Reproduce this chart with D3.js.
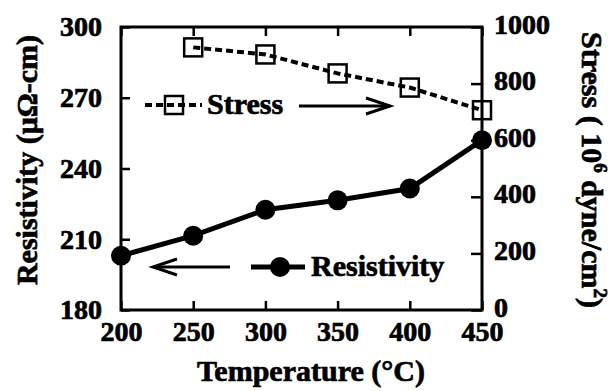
<!DOCTYPE html>
<html>
<head>
<meta charset="utf-8">
<script src="https://cdn.jsdelivr.net/npm/d3@7"></script>
<style>
  body { margin: 0; background: #fff; }
  svg text { font-family: 'Liberation Serif', 'Times New Roman', serif; font-weight: bold; fill: #000; stroke: #000; stroke-width: 0.7px; }
</style>
</head>
<body>
<div id="chart"></div>
<script>
// Data
var temps = [200, 250, 300, 350, 400, 450];
var resistivity = [203, 211.5, 222.5, 226.5, 231.5, 252];
var stressTemps = [250, 300, 350, 400, 450];
var stress = [928, 903, 836, 786, 706];
var xTicks = [200, 250, 300, 350, 400, 450];
var leftTicks = [180, 210, 240, 270, 300];
var rightTicks = [0, 200, 400, 600, 800, 1000];

var attrs = {
  svgWidth: 612,
  svgHeight: 391,
  left: 121,
  right: 482,
  top: 27,
  bottom: 310,
  tickFont: 28,
  titleFont: 30,
  font: "'Liberation Serif', 'Times New Roman', serif"
};

var svg = d3.select('#chart').append('svg')
  .attr('width', attrs.svgWidth)
  .attr('height', attrs.svgHeight);

var x = d3.scaleLinear().domain([200, 450]).range([attrs.left, attrs.right]);
var yL = d3.scaleLinear().domain([180, 300]).range([attrs.bottom, attrs.top]);
var yR = d3.scaleLinear().domain([0, 1000]).range([attrs.bottom, attrs.top]);
var fmt = d3.format('d');

// axes, ticks pointing inward
var gx = svg.append('g')
  .attr('transform', 'translate(0,' + attrs.bottom + ')')
  .call(d3.axisBottom(x).tickValues(xTicks).tickFormat(fmt).tickSizeInner(-9).tickSizeOuter(0).tickPadding(11));
var gxTop = svg.append('g')
  .attr('transform', 'translate(0,' + attrs.top + ')')
  .call(d3.axisTop(x).tickValues(xTicks).tickSizeInner(-9).tickSizeOuter(0).tickFormat(''));
var gyL = svg.append('g')
  .attr('transform', 'translate(' + attrs.left + ',0)')
  .call(d3.axisLeft(yL).tickValues(leftTicks).tickFormat(fmt).tickSizeInner(-9).tickSizeOuter(0).tickPadding(19));
var gyR = svg.append('g')
  .attr('transform', 'translate(' + attrs.right + ',0)')
  .call(d3.axisRight(yR).tickValues(rightTicks).tickFormat(fmt).tickSizeInner(-11).tickSizeOuter(0).tickPadding(12));

[gx, gxTop, gyL, gyR].forEach(function (g) {
  g.attr('font-family', attrs.font).attr('font-size', attrs.tickFont);
  g.select('.domain').remove();
  g.selectAll('.tick line').attr('stroke', '#000').attr('stroke-width', 2.5);
  g.selectAll('.tick text').attr('fill', '#000');
});
gyR.selectAll('.tick text').attr('dy', '0.22em');

// frame
svg.append('rect')
  .attr('x', attrs.left).attr('y', attrs.top)
  .attr('width', attrs.right - attrs.left)
  .attr('height', attrs.bottom - attrs.top)
  .attr('fill', 'none').attr('stroke', '#000').attr('stroke-width', 3);

// stress series (dashed, hollow squares)
var stressPts = stressTemps.map(function (t, i) { return { t: t, v: stress[i] }; });
svg.append('path')
  .datum(stressPts)
  .attr('fill', 'none').attr('stroke', '#000').attr('stroke-width', 4)
  .attr('stroke-dasharray', '7,4')
  .attr('d', d3.line().x(function (d) { return x(d.t); }).y(function (d) { return yR(d.v); }));
svg.selectAll('.sq').data(stressPts).enter().append('rect')
  .attr('class', 'sq')
  .attr('x', function (d) { return x(d.t) - 9; })
  .attr('y', function (d) { return yR(d.v) - 9; })
  .attr('width', 18).attr('height', 18)
  .attr('fill', 'none').attr('stroke', '#000').attr('stroke-width', 2.5);

// resistivity series (solid, filled circles)
var resPts = temps.map(function (t, i) { return { t: t, v: resistivity[i] }; });
svg.append('path')
  .datum(resPts)
  .attr('fill', 'none').attr('stroke', '#000').attr('stroke-width', 5)
  .attr('d', d3.line().x(function (d) { return x(d.t); }).y(function (d) { return yL(d.v); }));
svg.selectAll('.dot').data(resPts).enter().append('circle')
  .attr('class', 'dot')
  .attr('cx', function (d) { return x(d.t); })
  .attr('cy', function (d) { return yL(d.v); })
  .attr('r', 10).attr('fill', '#000');

// legends
function arrow(x1, x2, y) {
  var dir = x2 > x1 ? 1 : -1;
  svg.append('line').attr('x1', x1).attr('x2', x2).attr('y1', y).attr('y2', y)
    .attr('stroke', '#000').attr('stroke-width', 3);
  svg.append('path')
    .attr('d', 'M' + (x2 - dir * 24) + ',' + (y - 8) + 'L' + x2 + ',' + y + 'L' + (x2 - dir * 24) + ',' + (y + 8))
    .attr('fill', 'none').attr('stroke', '#000').attr('stroke-width', 3);
}

var sy = 105;
svg.append('line').attr('x1', 145).attr('x2', 202).attr('y1', sy).attr('y2', sy)
  .attr('stroke', '#000').attr('stroke-width', 4).attr('stroke-dasharray', '7,4');
svg.append('rect').attr('x', 165).attr('y', sy - 9).attr('width', 18).attr('height', 18)
  .attr('fill', 'none').attr('stroke', '#000').attr('stroke-width', 2.5);
svg.append('text').attr('x', 207).attr('y', sy + 9).attr('font-size', 30).text('Stress');
arrow(299, 390, sy + 1);

var ry = 267;
svg.append('line').attr('x1', 251).attr('x2', 305).attr('y1', ry).attr('y2', ry)
  .attr('stroke', '#000').attr('stroke-width', 5);
svg.append('circle').attr('cx', 280).attr('cy', ry).attr('r', 10).attr('fill', '#000');
svg.append('text').attr('x', 311).attr('y', ry + 9).attr('font-size', 30).text('Resistivity');
arrow(230, 153, ry);

// axis titles
svg.append('text')
  .attr('x', 311).attr('y', 381)
  .attr('text-anchor', 'middle').attr('font-size', attrs.titleFont)
  .text('Temperature (°C)');

svg.append('text')
  .attr('transform', 'translate(37,160) rotate(-90)')
  .attr('text-anchor', 'middle').attr('font-size', attrs.titleFont)
  .text('Resistivity (μΩ-cm)');

var rt = svg.append('text')
  .attr('transform', 'translate(582,170) rotate(90)')
  .attr('text-anchor', 'middle').attr('font-size', attrs.titleFont);
rt.append('tspan').text('Stress ( 10');
rt.append('tspan').attr('dy', -12).attr('font-size', 19).text('6');
rt.append('tspan').attr('dy', 12).text(' dyne/cm');
rt.append('tspan').attr('dy', -12).attr('font-size', 19).text('2');
rt.append('tspan').attr('dy', 12).text(')');
</script>
</body>
</html>
